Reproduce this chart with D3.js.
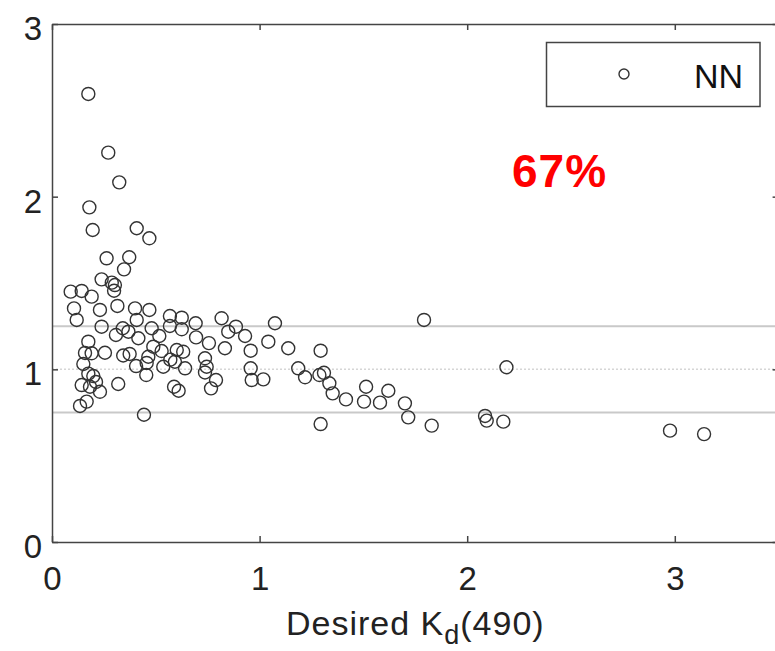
<!DOCTYPE html>
<meta charset="utf-8">
<style>
body { margin: 0; background: #fff; }

.axis text {
  font: 33px "Liberation Sans", Arial, sans-serif;
  fill: #222;
}

.axis path,
.axis line {
  fill: none;
  stroke: #444;
  stroke-width: 1.5px;
}

.dot {
  fill: none;
  stroke: #333;
  stroke-width: 1.4px;
}

.ref {
  stroke: #c9c9c9;
  stroke-width: 2px;
}

.ref.dotted {
  stroke: #d6d6d6;
  stroke-width: 1.5px;
  stroke-dasharray: 2,2;
}
</style>
<body>
<svg></svg>
<script src="https://d3js.org/d3.v7.min.js"></script>
<script>

// desired Kd(490)
var kdDesired = [0.175, 0.271, 0.324, 0.180, 0.196, 0.408, 0.469, 0.263, 0.372, 0.347,
  0.239, 0.288, 0.303, 0.299, 0.090, 0.143, 0.191, 0.315, 0.106, 0.231,
  0.119, 0.400, 0.469, 0.408, 0.239, 0.568, 0.625, 0.692, 0.817, 1.074,
  0.886, 0.849, 0.930, 1.042, 0.341, 0.368, 0.308, 0.480, 0.568, 0.625,
  0.416, 0.517, 0.488, 0.528, 0.694, 0.756, 0.833, 0.957, 0.175, 0.159,
  0.191, 0.255, 0.343, 0.374, 0.601, 0.632, 0.151, 0.405, 0.456, 0.464,
  0.536, 0.570, 0.592, 0.641, 0.737, 0.745, 0.737, 0.790, 0.766, 0.957,
  0.962, 1.018, 0.454, 0.175, 0.199, 0.143, 0.183, 0.231, 0.319, 0.588,
  0.610, 0.167, 0.135, 0.443, 1.138, 1.294, 1.792, 2.189, 1.186, 1.219,
  1.288, 1.310, 1.336, 1.352, 1.416, 1.513, 1.503, 1.580, 1.620, 1.700,
  1.716, 1.829, 1.294, 2.086, 2.094, 2.174, 2.977, 3.141, 0.212];

// NN ratio (estimated / desired)
var nnRatio = [2.595, 2.255, 2.083, 1.938, 1.807, 1.817, 1.759, 1.643, 1.649, 1.579,
  1.521, 1.502, 1.488, 1.455, 1.450, 1.454, 1.421, 1.367, 1.353, 1.344,
  1.286, 1.353, 1.344, 1.286, 1.247, 1.309, 1.299, 1.267, 1.296, 1.267,
  1.247, 1.218, 1.193, 1.160, 1.238, 1.218, 1.199, 1.238, 1.251, 1.232,
  1.180, 1.193, 1.131, 1.106, 1.185, 1.152, 1.122, 1.108, 1.160, 1.095,
  1.093, 1.096, 1.080, 1.089, 1.112, 1.102, 1.031, 1.019, 1.037, 1.073,
  1.015, 1.056, 1.044, 1.006, 1.064, 1.015, 0.982, 0.938, 0.890, 1.006,
  0.938, 0.942, 0.967, 0.975, 0.961, 0.909, 0.899, 0.870, 0.915, 0.899,
  0.876, 0.813, 0.788, 0.737, 1.122, 1.108, 1.286, 1.012, 1.006, 0.954,
  0.967, 0.980, 0.919, 0.861, 0.826, 0.899, 0.813, 0.807, 0.876, 0.803,
  0.722, 0.674, 0.683, 0.730, 0.703, 0.697, 0.645, 0.625, 0.927];

var refLines = [1.25, 1.0, 0.75];
var xTicks = [0, 1, 2, 3];
var yTicks = [0, 1, 2, 3];
var seriesName = "NN";
var percentLabel = "67%";

var data = kdDesired.map(function(d, i) { return {x: d, y: nnRatio[i]}; });

var width = 775, height = 651;

var x = d3.scaleLinear().domain([0, 3.5]).range([52, 778.6]);
var y = d3.scaleLinear().domain([0, 3]).range([542, 24]);

var svg = d3.select("svg")
    .attr("width", width)
    .attr("height", height);

// reference lines
svg.selectAll(".ref")
    .data(refLines)
  .enter().append("line")
    .attr("class", function(d) { return d === 1 ? "ref dotted" : "ref"; })
    .attr("x1", x(0))
    .attr("x2", x(3.5))
    .attr("y1", function(d) { return y(d); })
    .attr("y2", function(d) { return y(d); });

// axes (MATLAB style box, ticks inward)
svg.append("g")
    .attr("class", "x axis")
    .attr("transform", "translate(0," + y(0) + ")")
    .call(d3.axisBottom(x).tickValues(xTicks).tickSizeInner(-6).tickSizeOuter(0).tickPadding(25).tickFormat(d3.format("d")));

svg.append("g")
    .attr("class", "x axis")
    .attr("transform", "translate(0," + y(3) + ")")
    .call(d3.axisTop(x).tickValues(xTicks).tickSizeInner(-6).tickSizeOuter(0).tickFormat(""));

svg.append("g")
    .attr("class", "y axis")
    .attr("transform", "translate(" + x(0) + ",0)")
    .call(d3.axisLeft(y).tickValues(yTicks).tickSizeInner(-6).tickSizeOuter(0).tickPadding(10).tickFormat(d3.format("d")))
    .selectAll("text").attr("dy", "0.47em");

svg.append("g")
    .attr("class", "y axis")
    .attr("transform", "translate(" + x(3.5) + ",0)")
    .call(d3.axisRight(y).tickValues(yTicks).tickSizeInner(-6).tickSizeOuter(0).tickFormat(""));

// points
svg.selectAll(".dot")
    .data(data)
  .enter().append("circle")
    .attr("class", "dot")
    .attr("cx", function(d) { return x(d.x); })
    .attr("cy", function(d) { return y(d.y); })
    .attr("r", 6.5);

// x label
var xl = svg.append("text")
    .attr("x", (x(0) + x(3.5)) / 2)
    .attr("y", 635)
    .attr("text-anchor", "middle")
    .style("font", "34px 'Liberation Sans', Arial, sans-serif")
    .style("letter-spacing", "1px")
    .style("fill", "#222");
xl.append("tspan").text("Desired K");
xl.append("tspan").attr("dy", 9).style("font-size", "27px").text("d");
xl.append("tspan").attr("dy", -9).text("(490)");

// legend
var legend = svg.append("g");
legend.append("rect")
    .attr("x", 546.5)
    .attr("y", 42.5)
    .attr("width", 213.5)
    .attr("height", 64)
    .style("fill", "#fff")
    .style("stroke", "#444")
    .style("stroke-width", 1.5);
legend.append("circle")
    .attr("class", "dot")
    .attr("cx", 624)
    .attr("cy", 74)
    .attr("r", 5);
legend.append("text")
    .attr("x", 694)
    .attr("y", 88)
    .style("font", "34px 'Liberation Sans', Arial, sans-serif")
    .style("fill", "#111")
    .text(seriesName);

// percentage annotation
svg.append("text")
    .attr("x", 512)
    .attr("y", 187)
    .style("font", "bold 46px 'Liberation Sans', Arial, sans-serif")
    .style("letter-spacing", "1px")
    .style("fill", "#ff0000")
    .text(percentLabel);

</script>
